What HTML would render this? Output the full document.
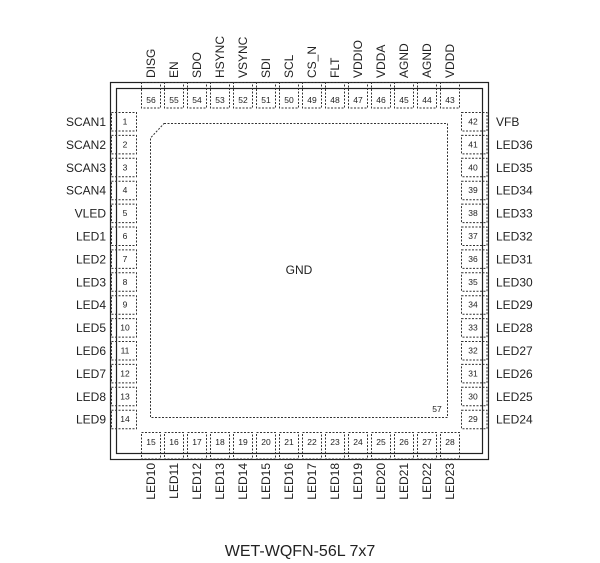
<!DOCTYPE html>
<html><head><meta charset="utf-8"><style>
html,body{margin:0;padding:0;background:#fff}
svg{display:block}
text{font-family:"Liberation Sans",Arial,sans-serif;fill:#222}
.l{font-size:12px}
.n{font-size:8.5px;text-anchor:middle}
.p{fill:none;stroke:#333;stroke-width:1;stroke-dasharray:2,1.5}
</style></head><body>
<svg width="600" height="563" viewBox="0 0 600 563" xmlns="http://www.w3.org/2000/svg">
<rect x="110.5" y="82.5" width="378" height="377" fill="none" stroke="#222" stroke-width="1.2"/>
<rect x="116.5" y="88.5" width="366" height="365" fill="none" stroke="#222" stroke-width="1.2"/>
<path class="p" d="M164 123.5 H447.5 V417.5 H150.5 V138 Z"/>
<text class="l" x="299" y="274" text-anchor="middle">GND</text>
<text class="n" x="437" y="412">57</text>
<g id="g"></g>
<text x="300" y="556" text-anchor="middle" style="font-size:16px">WET-WQFN-56L 7x7</text>
</svg>
<script>
var g=document.getElementById('g'),ns='http://www.w3.org/2000/svg';
function el(t,a,txt){var e=document.createElementNS(ns,t);for(var k in a)e.setAttribute(k,a[k]);if(txt!=null)e.textContent=txt;g.appendChild(e);}
var topL=["DISG","EN","SDO","HSYNC","VSYNC","SDI","SCL","CS_N","FLT","VDDIO","VDDA","AGND","AGND","VDDD"];
var left=["SCAN1","SCAN2","SCAN3","SCAN4","VLED","LED1","LED2","LED3","LED4","LED5","LED6","LED7","LED8","LED9"];
var right=["VFB","LED36","LED35","LED34","LED33","LED32","LED31","LED30","LED29","LED28","LED27","LED26","LED25","LED24"];
var bot=["LED10","LED11","LED12","LED13","LED14","LED15","LED16","LED17","LED18","LED19","LED20","LED21","LED22","LED23"];
for(var i=0;i<14;i++){
 var x=141+23*i, cx=x+10;
 el('rect',{class:'p',x:x+0.5,y:82.5,width:19,height:25.5});
 el('text',{class:'n',x:cx,y:103},56-i);
 el('text',{class:'l',transform:'translate('+(cx+4)+',78) rotate(-90)'},topL[i]);
 el('rect',{class:'p',x:x+0.5,y:432.5,width:19,height:26.5});
 el('text',{class:'n',x:cx,y:445},15+i);
 el('text',{class:'l','text-anchor':'end',transform:'translate('+(cx+4)+',463) rotate(-90)'},bot[i]);
 var y=112.5+22.9*i, cy=y+9;
 el('rect',{class:'p',x:111.5,y:y,width:25,height:18.5});
 el('text',{class:'n',x:125,y:cy+3},1+i);
 el('text',{class:'l','text-anchor':'end',x:106,y:cy+4.5},left[i]);
 el('rect',{class:'p',x:461.5,y:y,width:25.5,height:18.5});
 el('text',{class:'n',x:473,y:cy+3},42-i);
 el('text',{class:'l',x:496,y:cy+4.5},right[i]);
}
</script>
</body></html>
